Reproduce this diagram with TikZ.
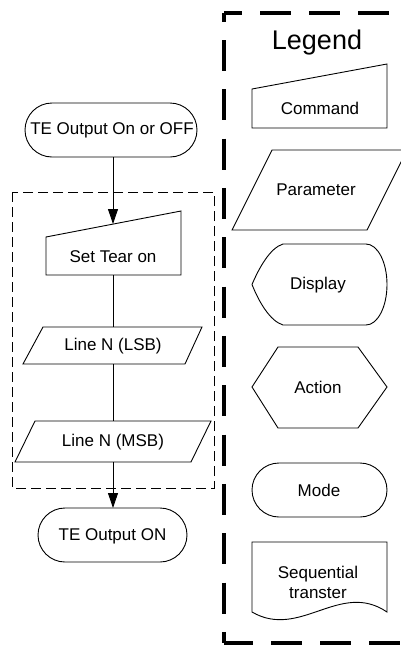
\documentclass[tikz,border=0pt]{standalone}
\usepackage{fontspec}
\setmainfont{Liberation Sans}
\usetikzlibrary{arrows.meta}
\begin{document}
\begin{tikzpicture}[x=1pt,y=-1pt,
  shp/.style={draw=black, line width=0.9pt, fill=white},
  lbl/.style={font=\fontsize{17}{20}\selectfont, inner sep=0pt, align=center},
  conn/.style={draw=black, line width=0.9pt},
  arr/.style={conn, -{Triangle[length=15pt,width=10pt]}},
  grpbox/.style={draw=black, line width=1pt, dash pattern=on 10pt off 5pt},
  legbox/.style={draw=black, line width=3.5pt},
  ]
\useasboundingbox (0,0) rectangle (401,646);
\fill[white] (0,0) rectangle (401,646);

% ---------- flow ----------
\draw[grpbox] (12,192) rectangle (214,488);

\draw[shp, rounded corners=27pt] (25,103) rectangle (197,157);
\node[lbl] (start) at (112,130) {TE Output On or OFF};
\coordinate (startb) at (113,157);

\draw[shp] (46,237) -- (181,211) -- (181,275) -- (46,275) -- cycle;
\node[lbl] (tear) at (113,257) {Set Tear on};
\coordinate (teart) at (113,224);
\coordinate (tearb) at (113,275);

\draw[shp] (43,327) -- (202,327) -- (185,364) -- (23,364) -- cycle;
\node[lbl] (lsb) at (113,346) {Line N (LSB)};
\coordinate (lsbt) at (113,327);
\coordinate (lsbb) at (113,364);

\draw[shp] (35,421) -- (211,421) -- (191,462) -- (15,462) -- cycle;
\node[lbl] (msb) at (113,442) {Line N (MSB)};
\coordinate (msbt) at (113,421);
\coordinate (msbb) at (113,462);

\draw[shp, rounded corners=27pt] (38,508) rectangle (187,562);
\node[lbl] (endn) at (112.5,536) {TE Output ON};
\coordinate (endt) at (113,508);

\draw[arr] (startb) -- (teart);
\draw[conn] (tearb) -- (lsbt);
\draw[conn] (lsbb) -- (msbt);
\draw[arr] (msbb) -- (endt);

% ---------- legend ----------
\draw[legbox, dash pattern=on 31pt off 18pt, dash phase=13pt] (224,13) -- (420,13);
\draw[legbox, dash pattern=on 31pt off 18.33pt, dash phase=22.33pt] (224,13) -- (224,643);
\draw[legbox, dash pattern=on 31pt off 18pt, dash phase=2pt] (224,643) -- (420,643);

\node[font=\fontsize{27}{30}\selectfont, inner sep=0pt] (legend) at (317,43) {Legend};

\draw[shp] (252,89) -- (387,64) -- (387,128) -- (252,128) -- cycle;
\node[lbl] (cmd) at (320,108) {Command};

\draw[shp] (272,150) -- (407,150) -- (367,230) -- (232,230) -- cycle;
\node[lbl] (par) at (316,190) {Parameter};

\draw[shp] (283,244) -- (366,244)
  .. controls (377.6,244) and (387,262.1) .. (387,284.5)
  .. controls (387,306.9) and (377.6,325) .. (366,325)
  -- (283,325)
  .. controls (270,321) and (259,302) .. (252,284.5)
  .. controls (259,268) and (270,248) .. (283,244) -- cycle;
\node[lbl] (disp) at (318,285) {Display};

\draw[shp] (252,387) -- (278,347) -- (358,347) -- (387,387) -- (358,428) -- (278,428) -- cycle;
\node[lbl] (act) at (318,387) {Action};

\draw[shp, rounded corners=27pt] (252,463) rectangle (387,517);
\node[lbl] (mode) at (319,490) {Mode};

\draw[shp] (252,612) -- (252,542) -- (387,542) -- (387,612)
  .. controls (340,580) and (300,640) .. (252,612) -- cycle;
\node[lbl] (seq) at (318,582) {Sequential\\transter};
\end{tikzpicture}
\end{document}
